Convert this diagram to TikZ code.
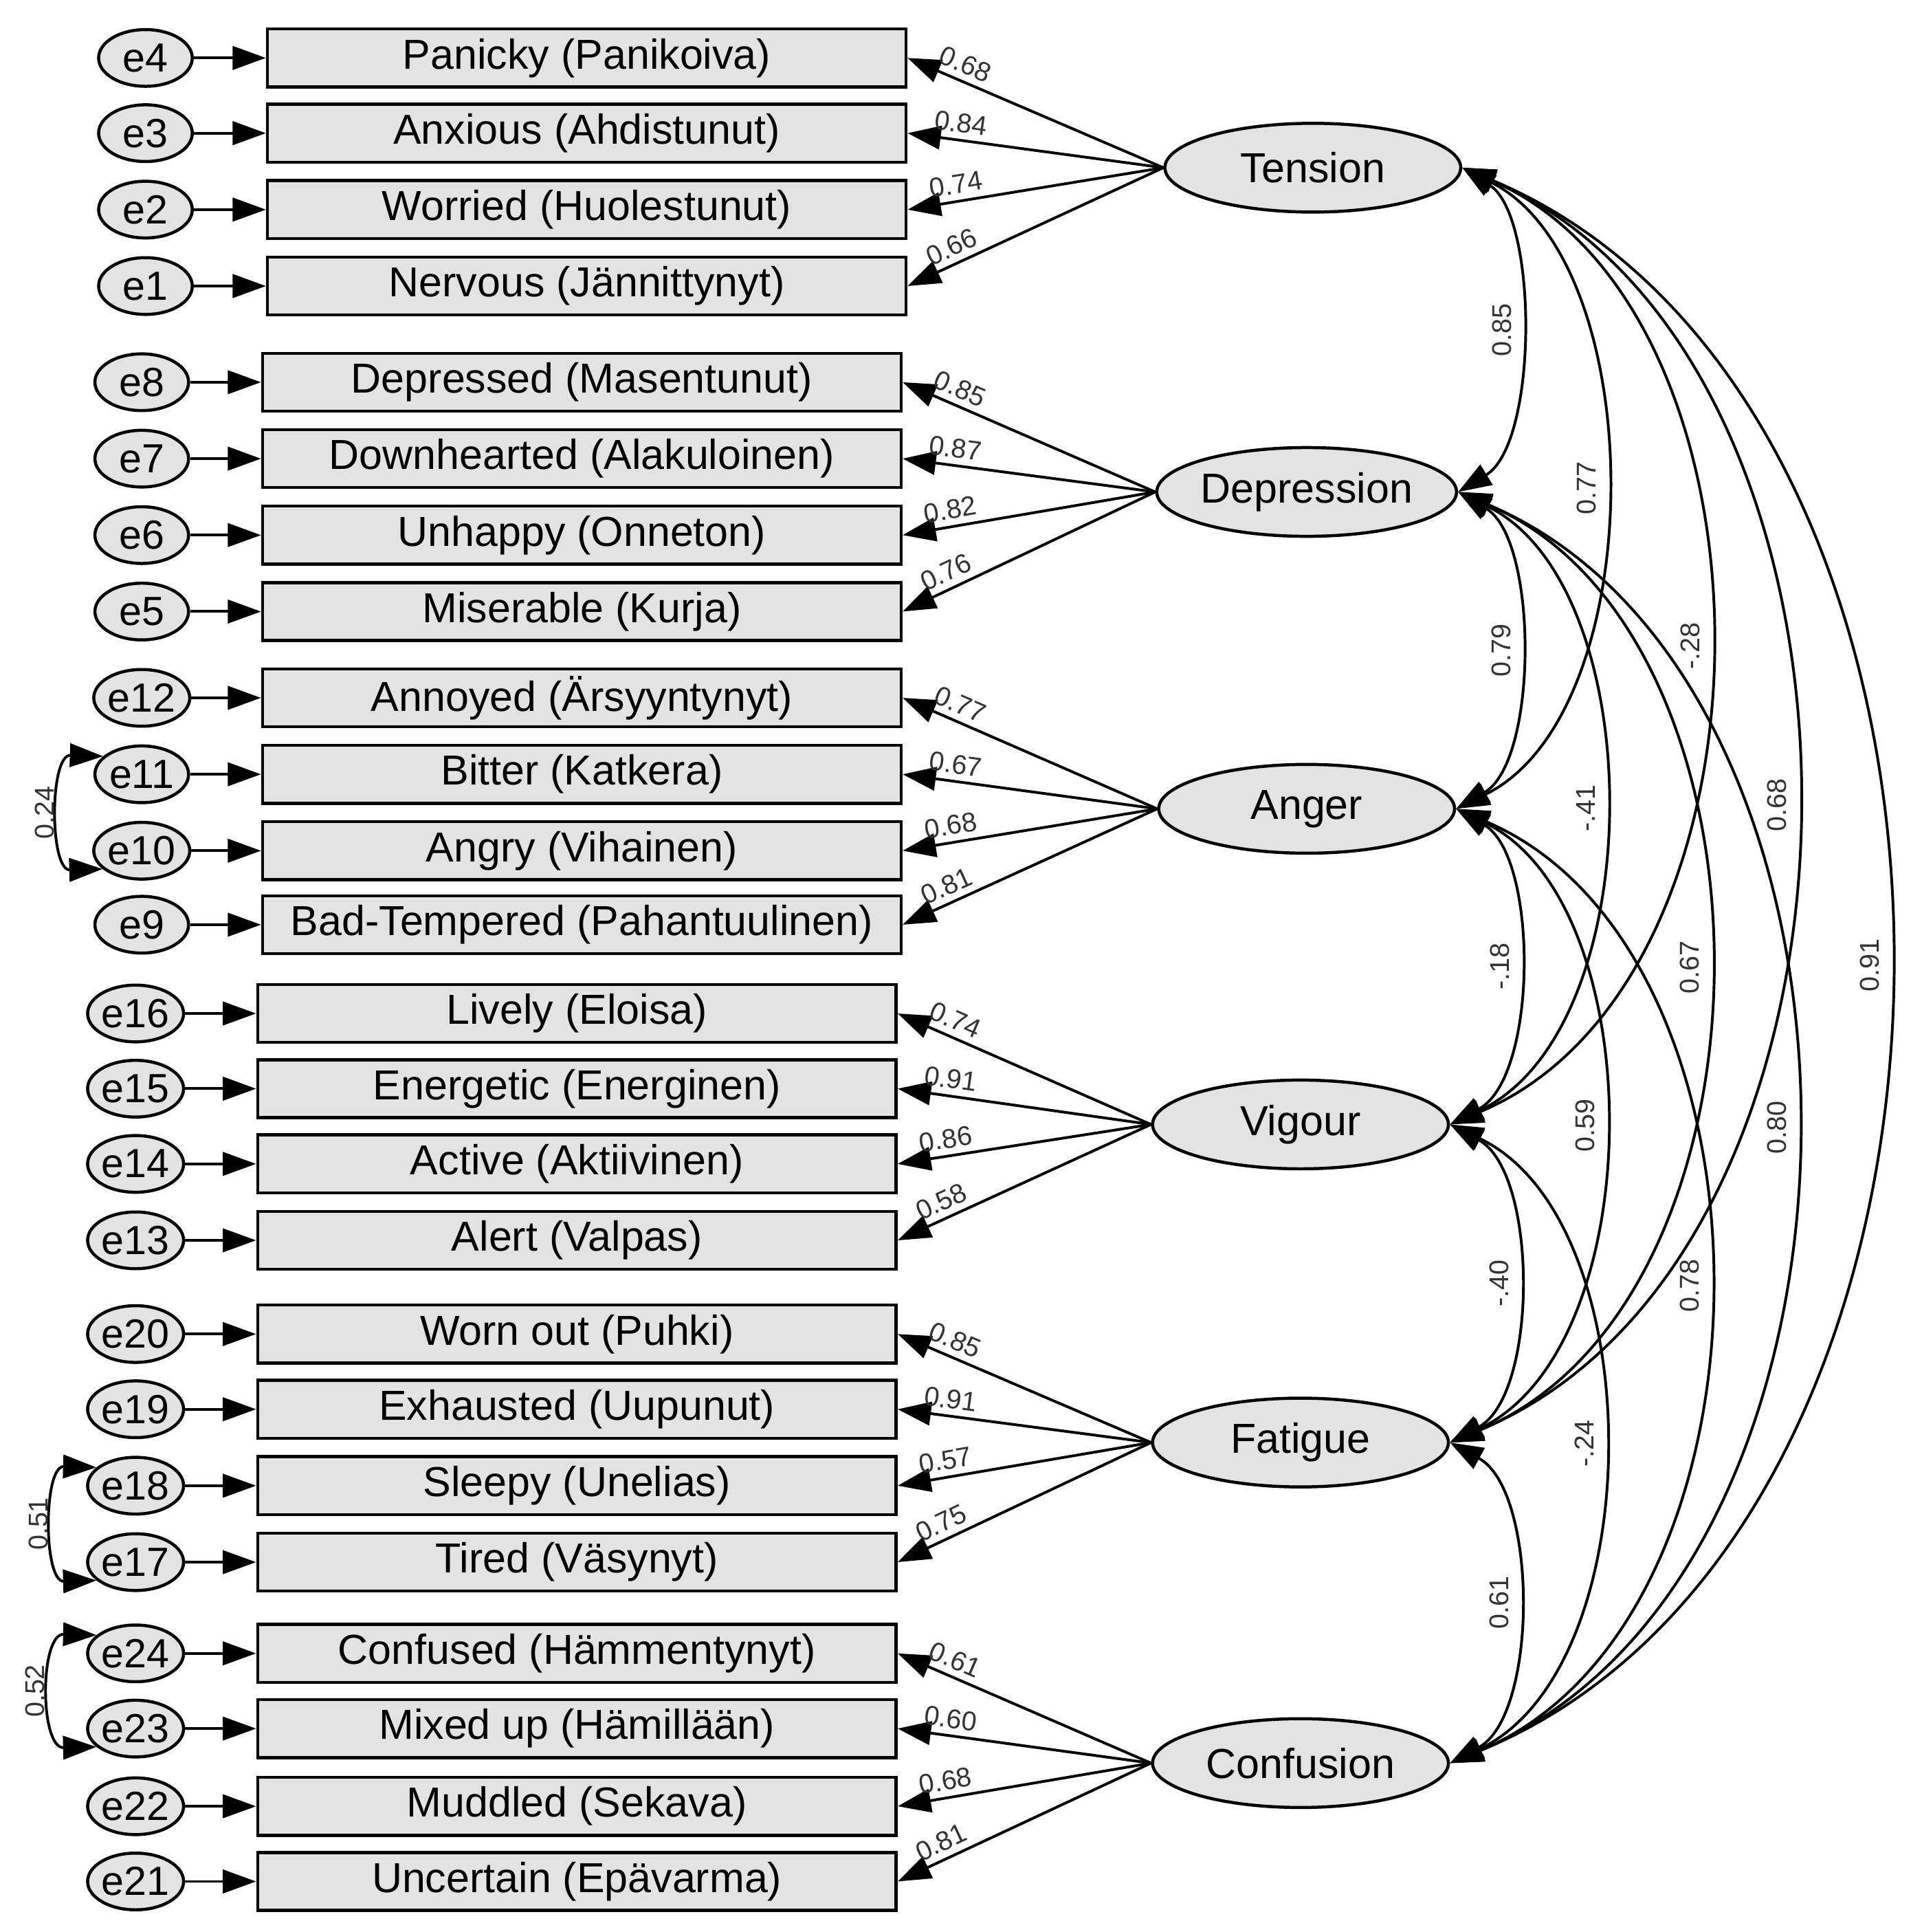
\documentclass[tikz,border=0pt]{standalone}
\usepackage{fontspec}
\setmainfont{Liberation Sans}
\usetikzlibrary{arrows.meta,shapes.geometric}
\newcommand\corrarc[6]{%
\pgfmathsetmacro\ya{#2+0.15*(#4-#2)}\pgfmathsetmacro\yb{#4-0.15*(#4-#2)}%
\draw[dbl] (#1.east) .. controls (#5,\ya) and (#5,\yb) .. (#3.east) node[pos=.5,rotate=90,anchor=south,lab,inner sep=5pt]{#6};}
\newcommand\grp[7]{%
\node[lat] (#1) at (#3,#4) {#2};
\foreach \e/\y/\t/\l in {#7} {
 \node[err] (e\e) at (#6,\y) {e\e};
 \node[box] (b\e) at (#5,\y) {\t};
 \draw[arr] (e\e) -- (b\e);
 \draw[arr] (#1.west) -- node[lab,pos=0.8,above,sloped,inner sep=5pt]{\l} (b\e.east);
}}
\begin{document}
\begin{tikzpicture}[x=1pt,y=-1pt,
 tri/.tip={Triangle[length=27pt,width=19pt]},
 arr/.style={-tri,line width=2.2pt},
 dbl/.style={tri-tri,line width=2.2pt},
 box/.style={draw,line width=2.5pt,fill=gray!22,minimum width=518pt,minimum height=47pt,inner sep=0pt,font=\fontsize{34}{38}\selectfont},
 err/.style={ellipse,draw,line width=2.5pt,fill=gray!22,minimum width=76pt,minimum height=46pt,inner sep=0pt,font=\fontsize{33}{38}\selectfont},
 lat/.style={ellipse,draw,line width=2.5pt,fill=gray!22,minimum width=240pt,minimum height=72pt,inner sep=0pt,font=\fontsize{34}{40}\selectfont},
 lab/.style={font=\fontsize{22}{26}\selectfont,text=black!80}]
\useasboundingbox (0,0) rectangle (1550,1567);
\grp{T}{Tension}{1065}{136}{476}{118}{4/47/Panicky (Panikoiva)/0.68, 3/108/Anxious (Ahdistunut)/0.84, 2/170/Worried (Huolestunut)/0.74, 1/232/Nervous (Jännittynyt)/0.66}
\grp{D}{Depression}{1060}{399}{472}{115}{8/310/Depressed (Masentunut)/0.85, 7/372/Downhearted (Alakuloinen)/0.87, 6/434/Unhappy (Onneton)/0.82, 5/496/Miserable (Kurja)/0.76}
\grp{A}{Anger}{1060}{656}{472}{115}{12/566/Annoyed (Ärsyyntynyt)/0.77, 11/628/Bitter (Katkera)/0.67, 10/690/Angry (Vihainen)/0.68, 9/750/Bad-Tempered (Pahantuulinen)/0.81}
\grp{V}{Vigour}{1055}{912}{468}{110}{16/822/Lively (Eloisa)/0.74, 15/883/Energetic (Energinen)/0.91, 14/944/Active (Aktiivinen)/0.86, 13/1006/Alert (Valpas)/0.58}
\grp{F}{Fatigue}{1055}{1170}{468}{110}{20/1082/Worn out (Puhki)/0.85, 19/1143/Exhausted (Uupunut)/0.91, 18/1205/Sleepy (Unelias)/0.57, 17/1267/Tired (Väsynyt)/0.75}
\grp{C}{Confusion}{1055}{1430}{468}{110}{24/1341/Confused (Hämmentynyt)/0.61, 23/1402/Mixed up (Hämillään)/0.60, 22/1465/Muddled (Sekava)/0.68, 21/1526/Uncertain (Epävarma)/0.81}
% error covariances
\draw[dbl] (e11.155) .. controls (40,612) and (40,706) .. (e10.205) node[pos=.5,rotate=90,anchor=south,lab,inner sep=6pt]{0.24};
\draw[dbl] (e18.155) .. controls (35,1189) and (35,1283) .. (e17.205) node[pos=.5,rotate=90,anchor=south,lab,inner sep=6pt]{0.51};
\draw[dbl] (e24.155) .. controls (32,1325) and (32,1418) .. (e23.205) node[pos=.5,rotate=90,anchor=south,lab,inner sep=6pt]{0.52};
% factor correlations
\corrarc{T}{136}{D}{399}{1248}{0.85}
\corrarc{D}{399}{A}{656}{1248}{0.79}
\corrarc{A}{656}{V}{912}{1248}{-.18}
\corrarc{V}{912}{F}{1170}{1248}{-.40}
\corrarc{F}{1170}{C}{1430}{1248}{0.61}
\corrarc{T}{136}{A}{656}{1340}{0.77}
\corrarc{D}{399}{V}{912}{1340}{-.41}
\corrarc{A}{656}{F}{1170}{1340}{0.59}
\corrarc{V}{912}{C}{1430}{1340}{-.24}
\corrarc{T}{136}{V}{912}{1453}{-.28}
\corrarc{D}{399}{F}{1170}{1453}{0.67}
\corrarc{A}{656}{C}{1430}{1453}{0.78}
\corrarc{T}{136}{F}{1170}{1547}{0.68}
\corrarc{D}{399}{C}{1430}{1547}{0.80}
\corrarc{T}{136}{C}{1430}{1647}{0.91}
\end{tikzpicture}
\end{document}
